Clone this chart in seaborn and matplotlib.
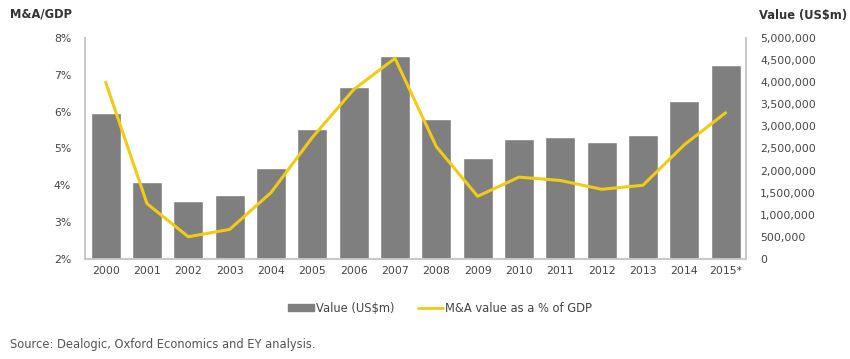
import matplotlib
matplotlib.use("Agg")
import matplotlib.pyplot as plt
import matplotlib.patches as mpatches
import matplotlib.lines as mlines
from matplotlib.ticker import FuncFormatter
import seaborn as sns
import pandas as pd

years = ['2000', '2001', '2002', '2003', '2004', '2005', '2006', '2007',
         '2008', '2009', '2010', '2011', '2012', '2013', '2014', '2015*']
value_usdm = [3300000, 1740000, 1310000, 1450000, 2060000, 2940000, 3890000, 4590000,
              3170000, 2290000, 2710000, 2750000, 2650000, 2800000, 3580000, 4400000]
pct_gdp = [6.8, 3.5, 2.6, 2.8, 3.8, 5.3, 6.6, 7.45,
           5.05, 3.7, 4.22, 4.13, 3.89, 4.0, 5.1, 5.97]

df = pd.DataFrame({'year': years, 'value': value_usdm, 'pct': pct_gdp})

sns.set_style("white")
plt.rcParams['font.family'] = ['DejaVu Sans']

bar_col = '#7f7f7f'
line_col = '#f2cb14'
txt_col = '#444444'
spine_col = '#c8c8c8'

fig = plt.figure(figsize=(8.5, 3.59), dpi=100)
ax = fig.add_axes([0.1, 0.279, 0.778, 0.615])

# bars on value axis (ticks go to the right)
sns.barplot(data=df, x='year', y='value', color=bar_col, width=0.72,
            saturation=1, ax=ax)
ax.set_ylim(0, 5000000)
ax.set_xlim(-0.5, len(years) - 0.5)
ax.set_yticks(range(0, 5000001, 500000))
ax.yaxis.set_major_formatter(FuncFormatter(lambda v, p: f'{int(v):,}'))
ax.set_xlabel('')
ax.set_ylabel('')

# line on % axis (ticks on the left)
ax2 = ax.twinx()
sns.lineplot(x=list(range(len(years))), y=df['pct'], color=line_col, lw=2.2, ax=ax2)
ax2.set_ylim(2, 8)
ax2.set_yticks(range(2, 9))
ax2.yaxis.set_major_formatter(FuncFormatter(lambda v, p: f'{int(v)}%'))
ax2.set_ylabel('')

# swap sides after twinx
ax.yaxis.tick_right()
ax2.yaxis.tick_left()

for a in (ax, ax2):
    a.tick_params(axis='both', length=0, labelsize=7.8, colors=txt_col, pad=5)
    a.spines['top'].set_visible(False)
    for s in ('left', 'right', 'bottom'):
        a.spines[s].set_color(spine_col)
        a.spines[s].set_linewidth(1.2)
ax.tick_params(axis='y', pad=10)
ax2.tick_params(axis='y', pad=10)

fig.text(0.012, 0.962, 'M&A/GDP', fontsize=8.3, fontweight='bold', color='#333333', va='center')
fig.text(0.893, 0.958, 'Value (US\\$m)', fontsize=8.3, fontweight='bold', color='#333333', va='center')

handles = [mpatches.Patch(color=bar_col, label='Value (US\\$m)'),
           mlines.Line2D([], [], color=line_col, lw=2, label='M&A value as a % of GDP')]
fig.legend(handles=handles, loc='center', bbox_to_anchor=(0.518, 0.142), ncol=2,
           frameon=False, fontsize=8.3, labelcolor=txt_col, handlelength=2.2,
           handleheight=0.6, handletextpad=0.2, columnspacing=2.0)

fig.text(0.012, 0.04, 'Source: Dealogic, Oxford Economics and EY analysis.',
         fontsize=8.3, color='#555555', va='center')

fig.savefig('out.png', dpi=100)
